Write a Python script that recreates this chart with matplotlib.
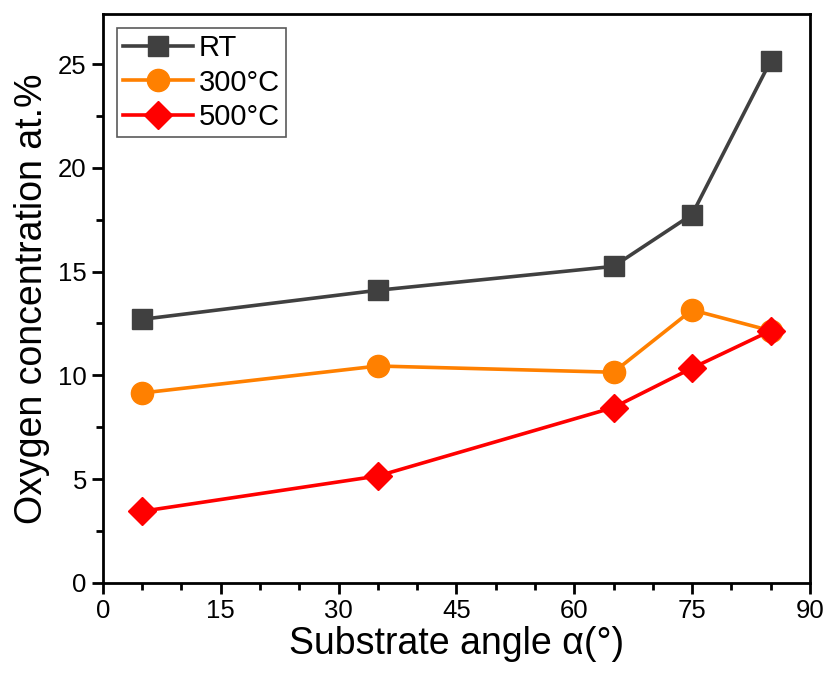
import numpy as np
import matplotlib.pyplot as plt
from matplotlib.ticker import MultipleLocator

plt.rcParams['font.family'] = ['Liberation Sans', 'DejaVu Sans']

# Substrate angle (deg)
angle = [5, 35, 65, 75, 85]

# Oxygen concentration (at.%)
o_rt = [12.7, 14.1, 15.25, 17.75, 25.15]
o_300 = [9.15, 10.45, 10.15, 13.15, 12.15]
o_500 = [3.45, 5.15, 8.45, 10.35, 12.15]

fig = plt.figure(figsize=(8.29, 6.77), dpi=100)
ax = fig.add_axes([0.124, 0.139, 0.853, 0.840])

ax.plot(angle, o_rt, color='#404040', lw=2.6, marker='s', ms=15, label='RT')
ax.plot(angle, o_300, color='#FF8000', lw=2.6, marker='o', ms=16, label='300°C')
ax.plot(angle, o_500, color='#FF0000', lw=2.6, marker='D', ms=14, label='500°C')

ax.set_xlim(0, 90)
ax.set_ylim(0, 27.4)
ax.xaxis.set_major_locator(MultipleLocator(15))
ax.xaxis.set_minor_locator(MultipleLocator(5))
ax.yaxis.set_major_locator(MultipleLocator(5))
ax.yaxis.set_minor_locator(MultipleLocator(2.5))

ax.tick_params(which='major', direction='out', length=8, width=2, labelsize=18.5)
ax.tick_params(which='minor', direction='out', length=5, width=2)
for s in ax.spines.values():
    s.set_linewidth(2)

ax.set_xlabel('Substrate angle α(°)', fontsize=27, labelpad=2)
ax.set_ylabel('Oxygen concentration at.%', fontsize=27, labelpad=6)

leg = ax.legend(loc='upper left', fontsize=21, frameon=True, fancybox=False,
                edgecolor='#303030', handlelength=2.4, borderpad=0.2,
                labelspacing=0.22, handletextpad=0.2, borderaxespad=0,
                bbox_to_anchor=(0.02, 0.975))
leg.get_frame().set_linewidth(1.2)

plt.savefig('out.png', dpi=100)
